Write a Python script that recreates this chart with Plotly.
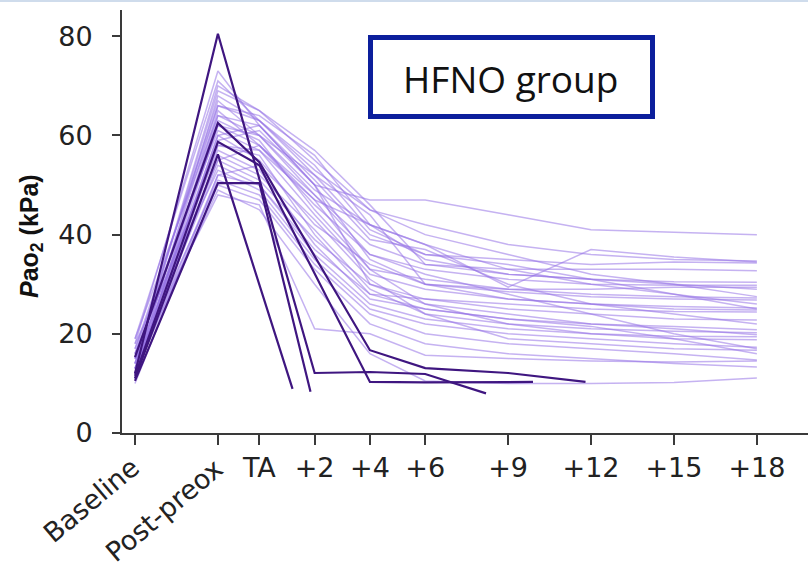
import plotly.graph_objects as go

# ---------------- data ----------------
time_points = [-4.5, -1.5, 0, 2, 4, 6, 9, 12, 15, 18]
tick_labels = ["Baseline", "Post-preox", "TA", "+2", "+4", "+6", "+9", "+12", "+15", "+18"]
y_ticks = [0, 20, 40, 60, 80]

# light lines: patients without desaturation (values at time_points)
p01 = [18, 73, 62, 50, 47, 47, 44, 41, 40.5, 40]
p02 = [14, 70, 65, 55, 45, 42, 38, 36, 35, 34.7]
p03 = [12, 68, 63, 52, 40, 36, 35, 34, 34.5, 34.3]
p04 = [16, 67, 60, 48, 38, 34, 33, 33, 33, 32.7]
p05 = [13, 66, 64, 56, 42, 35, 32, 31, 30.5, 30.4]
p06 = [11, 65, 58, 46, 36, 33, 31, 30, 29.8, 29.8]
p07 = [19, 64, 62, 50, 35, 30, 29, 29, 29.4, 29.4]
p08 = [15, 63, 59, 45, 33, 31, 29, 28, 27.5, 27.2]
p09 = [12, 62, 60, 52, 44, 30, 28.5, 27.5, 27, 26.8]
p10 = [17, 61, 57, 44, 32, 29, 27, 26, 25.5, 25.2]
p11 = [13, 60, 55, 42, 34, 30, 27, 26, 25, 24.8]
p12 = [14, 59, 61, 50, 30, 27, 26, 25, 24.5, 24.4]
p13 = [11, 58, 56, 40, 28, 27, 25, 24, 23, 22.8]
p14 = [16, 57, 53, 38, 27, 25, 23, 22, 21.5, 20.8]
p15 = [12, 56, 52, 41, 29, 24, 22, 21, 20.5, 20.2]
p16 = [15, 55, 58, 47, 33, 26, 22, 20, 19.5, 19.4]
p17 = [13, 54, 50, 36, 26, 23, 21, 20, 19, 18.8]
p18 = [18, 53, 49, 35, 25, 22, 20, 19, 18, 17.3]
p19 = [10, 52, 54, 43, 31, 24, 19, 18, 17, 16.7]
p20 = [14, 51, 48, 34, 24, 20, 18, 17, 16, 14.7]
p21 = [12, 50, 47, 33, 22, 18, 16, 15, 14, 13.3]
p22 = [13, 49, 45, 30, 16, 10.5, 10, 10, 10.2, 11.1]
p23 = [15, 48, 46, 21, 20, 15.7, 15, 14.5, 14.3, 14.5]
p24 = [11, 64, 60, 49, 42, 38, 33, 30, 28, 26]
p25 = [17, 66, 63, 53, 45, 40, 36, 32, 30, 27.5]
p26 = [12, 60, 62, 51, 39, 37, 30, 26, 24, 22]
p27 = [14, 69, 65, 57, 46, 34, 32, 31, 30, 29]
p28 = [16, 58, 57, 47, 42, 38, 29.4, 37, 35.5, 34.5]
p29 = [13, 55, 51, 39, 30, 26, 24, 22, 21, 19.8]
p30 = [15, 62, 58, 48, 36, 32, 28, 24, 20, 17]
p31 = [12, 52, 50, 37, 28, 25, 23, 21.5, 19, 16]
p32 = [19, 71, 63, 54, 41, 36, 34, 31, 28, 25]
light_series = [p01, p02, p03, p04, p05, p06, p07, p08, p09, p10, p11, p12, p13, p14, p15, p16,
                p17, p18, p19, p20, p21, p22, p23, p24, p25, p26, p27, p28, p29, p30, p31, p32]

# dark lines: patients with desaturation (own time stamps)
d1_t = [-4.5, -1.5, 2, 4, 6, 8.2]
d1_v = [12.0, 80.5, 12.1, 12.3, 11.9, 8.0]
d2_t = [-4.5, -1.5, 1.2]
d2_v = [11.0, 56.2, 8.9]
d3_t = [-4.5, -1.5, 0, 4, 6, 9, 11.8]
d3_v = [15.3, 62.5, 54.6, 16.7, 13.1, 12.1, 10.3]
d4_t = [-4.5, -1.5, 0, 1.85]
d4_v = [10.5, 50.4, 50.4, 8.3]
d5_t = [-4.5, -1.5, 0, 4, 6, 9.9]
d5_v = [11.5, 58.7, 54.0, 10.3, 10.2, 10.3]
dark_series = [(d1_t, d1_v), (d2_t, d2_v), (d3_t, d3_v), (d4_t, d4_v), (d5_t, d5_v)]

# ---------------- figure ----------------
LIGHT = "rgba(150,115,230,0.55)"
DARK = "#3f1680"

fig = go.Figure()
for vals in light_series:
    fig.add_trace(go.Scatter(x=time_points, y=vals, mode="lines",
                             line=dict(color=LIGHT, width=1.5), showlegend=False,
                             hoverinfo="skip"))
for t, v in dark_series:
    fig.add_trace(go.Scatter(x=t, y=v, mode="lines",
                             line=dict(color=DARK, width=2.2), showlegend=False,
                             hoverinfo="skip"))

L, T, B = 122, 10, 141
W, H = 808, 574
PW, PH = W - L, H - T - B

def px_x(px):
    return (px - L) / PW

def px_y(py):
    return (H - B - py) / PH

fig.update_layout(
    width=W, height=H,
    margin=dict(l=L, r=0, t=T, b=B),
    paper_bgcolor="white", plot_bgcolor="white",
    font=dict(family="DejaVu Sans", color="#222222"),
    xaxis=dict(range=[-4.97, 19.85], tickmode="array", tickvals=time_points,
               ticktext=[""] * 2 + tick_labels[2:],
               showline=True, linecolor="#3a3a3a", linewidth=2,
               ticks="outside", ticklen=10, tickwidth=2, tickcolor="#3a3a3a",
               tickfont=dict(size=27, family="DejaVu Sans", color="#222222"),
               showgrid=False, zeroline=False),
    yaxis=dict(range=[0, 85.3], tickvals=y_ticks,
               showline=True, linecolor="#3a3a3a", linewidth=2,
               ticks="outside", ticklen=8, tickwidth=2, tickcolor="#3a3a3a",
               ticklabelstandoff=14,
               tickfont=dict(size=27, family="DejaVu Sans", color="#222222"),
               showgrid=False, zeroline=False),
)

# rotated category labels
fig.add_annotation(x=-4.066, y=px_y(449), xref="x", yref="paper", text=tick_labels[0],
                   textangle=-40, xanchor="right", yanchor="top", showarrow=False,
                   font=dict(size=27, family="DejaVu Sans", color="#222222"))
fig.add_annotation(x=-1.03, y=px_y(450), xref="x", yref="paper", text=tick_labels[1],
                   textangle=-40, xanchor="right", yanchor="top", showarrow=False,
                   font=dict(size=27, family="DejaVu Sans", color="#222222"))

# y title
fig.add_annotation(x=px_x(31), y=px_y(236), xref="paper", yref="paper",
                   text="<b><i>P</i>ao<sub>2</sub> (kPa)</b>", textangle=-90,
                   xanchor="center", yanchor="middle", showarrow=False,
                   font=dict(size=25, family="Liberation Sans", color="#111111"))

# group label box
fig.add_shape(type="rect", xref="paper", yref="paper",
              x0=px_x(370.5), x1=px_x(652.5), y0=px_y(116.5), y1=px_y(37.5),
              line=dict(color="#0c1f9c", width=5), fillcolor="white", layer="above")
fig.add_annotation(x=px_x(510.5), y=px_y(78), xref="paper", yref="paper",
                   text="HFNO group", showarrow=False, xanchor="center", yanchor="middle",
                   font=dict(size=37, family="Open Sans", color="#111111"))

# thin light-blue top border of the source image
fig.add_shape(type="line", xref="paper", yref="paper", x0=-L / PW, x1=1,
              y0=px_y(1), y1=px_y(1), line=dict(color="#cfdcec", width=2))

fig.write_html("out.html")
